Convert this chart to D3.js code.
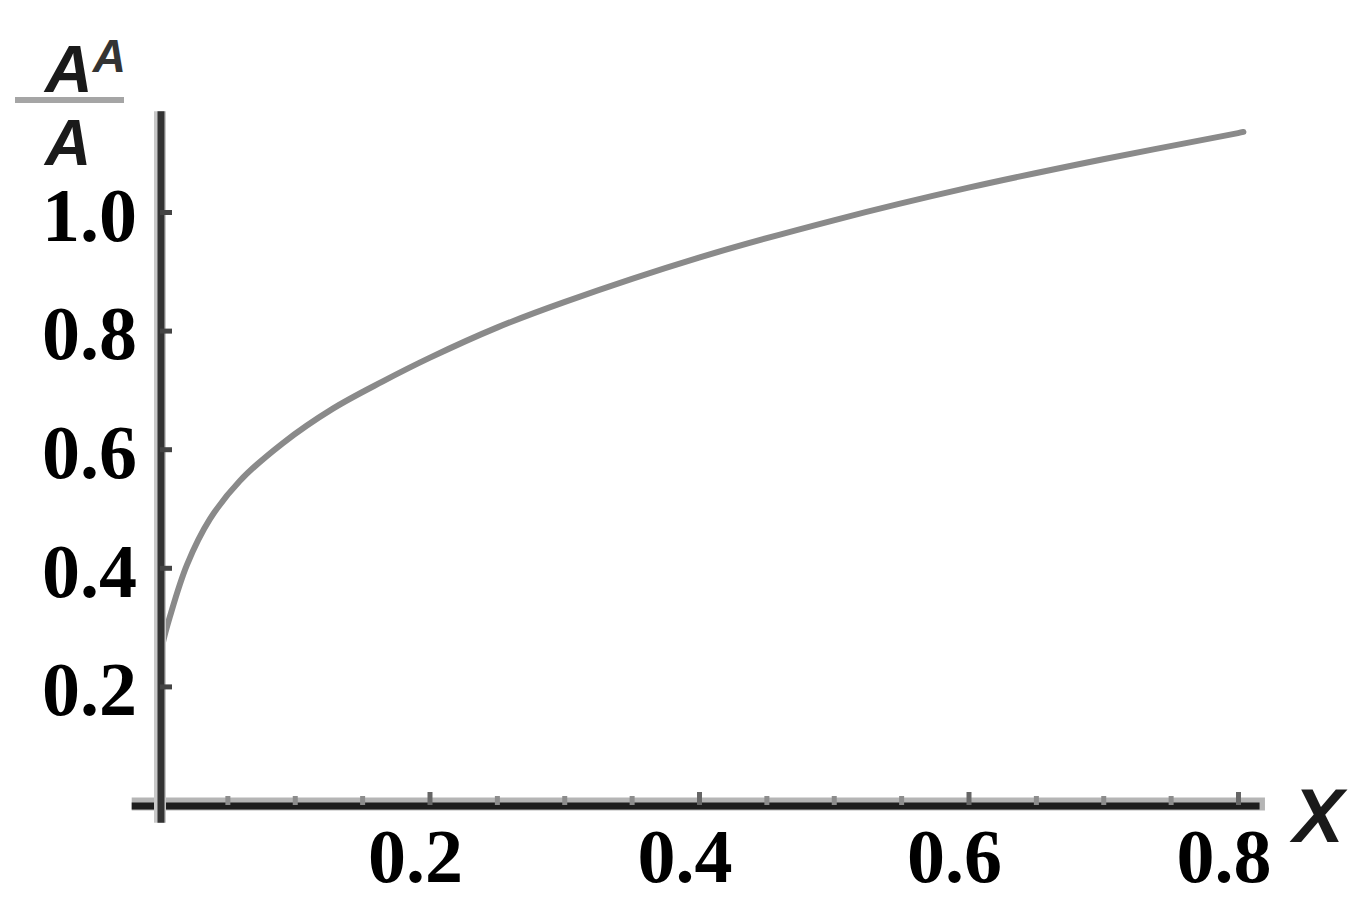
<!DOCTYPE html>
<html>
<head>
<meta charset="utf-8">
<script src="https://cdn.jsdelivr.net/npm/d3@7"></script>
<style>
  html, body { margin: 0; padding: 0; background: #fff; }
  svg { display: block; }
</style>
</head>
<body>
<svg id="chart" width="1366" height="923"></svg>
<script>
// ---- data ----
const xValues = [0, 0.002, 0.0074, 0.020, 0.037, 0.059, 0.091, 0.128, 0.165, 0.2, 0.25, 0.3, 0.4, 0.5, 0.6, 0.7, 0.8, 0.804];
const yValues = [0.24, 0.272, 0.318, 0.405, 0.482, 0.546, 0.610, 0.668, 0.714, 0.754, 0.805, 0.848, 0.923, 0.986, 1.041, 1.089, 1.133, 1.135];
const xTicks = [0.2, 0.4, 0.6, 0.8];
const xMinorTicks = [0.05, 0.1, 0.15, 0.25, 0.3, 0.35, 0.45, 0.5, 0.55, 0.65, 0.7, 0.75];
const yTicks = [0.2, 0.4, 0.6, 0.8, 1.0];
const xTickLabels = ["0.2", "0.4", "0.6", "0.8"];
const yTickLabels = ["0.2", "0.4", "0.6", "0.8", "1.0"];

const svg = d3.select("#chart");

const x = d3.scaleLinear().domain([0, 0.8]).range([160, 1238]);
const y = d3.scaleLinear().domain([0, 1.0]).range([805, 212]);

// curve
const line = d3.line()
  .x((d, i) => x(xValues[i]))
  .y((d, i) => y(yValues[i]))
  .curve(d3.curveCatmullRom.alpha(0.5));

svg.append("path")
  .datum(yValues)
  .attr("d", line)
  .attr("fill", "none")
  .attr("stroke", "#8a8a8a")
  .attr("stroke-width", 6)
  .attr("stroke-linecap", "round");

// axis line (x)
svg.append("line")
  .attr("x1", x(-0.021)).attr("x2", x(0.82))
  .attr("y1", y(0) - 1).attr("y2", y(0) - 1)
  .attr("stroke", "#b5b5b5").attr("stroke-width", 13);
svg.append("line")
  .attr("x1", x(-0.021)).attr("x2", x(0.816))
  .attr("y1", y(0) + 1).attr("y2", y(0) + 1)
  .attr("stroke", "#1e1e1e").attr("stroke-width", 7);

// x axis ticks
const xAxis = d3.axisTop(x)
  .tickValues(xTicks)
  .tickSize(13)
  .tickFormat("");
const gx = svg.append("g").attr("transform", `translate(0,${y(0)})`).call(xAxis);
gx.select(".domain").remove();
gx.selectAll(".tick line").attr("stroke", "#666").attr("stroke-width", 5);

const xAxisMinor = d3.axisTop(x)
  .tickValues(xMinorTicks)
  .tickSize(9)
  .tickFormat("");
const gxm = svg.append("g").attr("transform", `translate(0,${y(0)})`).call(xAxisMinor);
gxm.select(".domain").remove();
gxm.selectAll(".tick line").attr("stroke", "#8c8c8c").attr("stroke-width", 5);

// y axis
svg.append("line")
  .attr("x1", x(0)).attr("x2", x(0))
  .attr("y1", y(1.17)).attr("y2", y(-0.03))
  .attr("stroke", "#c8c8c8").attr("stroke-width", 12);
svg.append("line")
  .attr("x1", x(0) + 1).attr("x2", x(0) + 1)
  .attr("y1", y(1.17)).attr("y2", y(-0.03))
  .attr("stroke", "#333").attr("stroke-width", 7);

const yAxis = d3.axisRight(y)
  .tickValues(yTicks)
  .tickSize(12)
  .tickFormat("");
const gy = svg.append("g").attr("transform", `translate(${x(0)},0)`).call(yAxis);
gy.select(".domain").remove();
gy.selectAll(".tick line").attr("stroke", "#444").attr("stroke-width", 5);

// tick labels
const labelFont = "'Liberation Serif', 'Times New Roman', serif";
svg.append("g").selectAll("text")
  .data(yTicks)
  .join("text")
  .attr("x", 137)
  .attr("y", d => y(d))
  .attr("dy", "0.38em")
  .attr("text-anchor", "end")
  .attr("font-family", labelFont)
  .attr("font-weight", "bold")
  .attr("font-size", 76)
  .attr("fill", "#000")
  .text((d, i) => yTickLabels[i]);

svg.append("g").selectAll("text")
  .data(xTicks)
  .join("text")
  .attr("x", d => x(d) - 14)
  .attr("y", 882)
  .attr("text-anchor", "middle")
  .attr("font-family", labelFont)
  .attr("font-weight", "bold")
  .attr("font-size", 76)
  .attr("fill", "#000")
  .text((d, i) => xTickLabels[i]);

// axis labels
const axisFont = "'Liberation Sans', Arial, sans-serif";
const yl = svg.append("g");
const numer = yl.append("text")
  .attr("x", 45).attr("y", 92)
  .attr("font-family", axisFont)
  .attr("font-style", "italic")
  .attr("font-weight", "bold")
  .attr("font-size", 66)
  .attr("fill", "#1a1a1a");
numer.append("tspan").text("A");
numer.append("tspan")
  .attr("font-size", 46)
  .attr("dy", -20)
  .attr("fill", "#333")
  .text("A");
yl.append("line")
  .attr("x1", 15).attr("x2", 124)
  .attr("y1", 100).attr("y2", 100)
  .attr("stroke", "#a5a5a5").attr("stroke-width", 6);
yl.append("text")
  .attr("x", 45).attr("y", 165)
  .attr("font-family", axisFont)
  .attr("font-style", "italic")
  .attr("font-weight", "bold")
  .attr("font-size", 64)
  .attr("fill", "#1a1a1a")
  .text("A");

svg.append("text")
  .attr("x", 1293).attr("y", 842)
  .attr("font-family", axisFont)
  .attr("font-style", "italic")
  .attr("font-weight", "bold")
  .attr("font-size", 76)
  .attr("fill", "#1a1a1a")
  .text("X");
</script>
</body>
</html>
